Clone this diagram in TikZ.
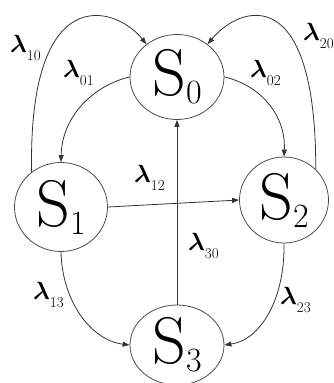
\documentclass[tikz,border=0pt]{standalone}
\usetikzlibrary{shapes.geometric,arrows.meta}
\newcommand{\stname}[1]{{\fontsize{66}{66}\selectfont S\raisebox{-8pt}{\fontsize{34}{34}\selectfont #1}}}
\newcommand{\lamlab}[1]{{\fontsize{27}{27}\selectfont\boldmath$\lambda$}\raisebox{-8pt}{\fontsize{15}{15}\selectfont #1}}
\tikzset{
  state/.style={ellipse, draw=black!70, line width=0.8pt, inner sep=0pt},
  lbl/.style={anchor=west, inner sep=0pt},
  edge/.style={draw=black!80, line width=0.8pt, -{Triangle[length=7pt,width=5pt]}}
}
\begin{document}
\begin{tikzpicture}[x=1pt,y=-1pt]
\useasboundingbox (0,0) rectangle (334,383);
\node[state, minimum width=94pt, minimum height=85pt] (S0) at (177,77) {\stname{0}};
\node[state, minimum width=93pt, minimum height=89pt] (S1) at (61,207) {\stname{1}};
\node[state, minimum width=89pt, minimum height=86pt] (S2) at (284,200) {\stname{2}};
\node[state, minimum width=94pt, minimum height=80pt] (S3) at (177,345) {\stname{3}};

\draw[edge] (S1.130) .. controls (28,-20) and (115,5) .. (S0.133);
\draw[edge] (S2.44) .. controls (316,-20) and (240,5) .. (S0.47);
\draw[edge] (S0.west) .. controls (95,85) and (62,115) .. (S1.north);
\draw[edge] (S0.east) .. controls (260,85) and (286,115) .. (S2.north);
\draw[edge] (S1.east) -- (S2.west);
\draw[edge] (S3.north) -- (S0.south);
\draw[edge] (S1.south) .. controls (62,300) and (90,340) .. (S3.west);
\draw[edge] (S2.south) .. controls (285,300) and (260,340) .. (S3.east);

\node[lbl] (l10) at (10,48) {\lamlab{10}};
\node[lbl] (l01) at (63,73) {\lamlab{01}};
\node[lbl] (l02) at (250,73) {\lamlab{02}};
\node[lbl] (l20) at (303,36) {\lamlab{20}};
\node[lbl] (l12) at (134,178) {\lamlab{12}};
\node[lbl] (l30) at (188,246) {\lamlab{30}};
\node[lbl] (l13) at (33,295) {\lamlab{13}};
\node[lbl] (l23) at (280,300) {\lamlab{23}};
\end{tikzpicture}
\end{document}
